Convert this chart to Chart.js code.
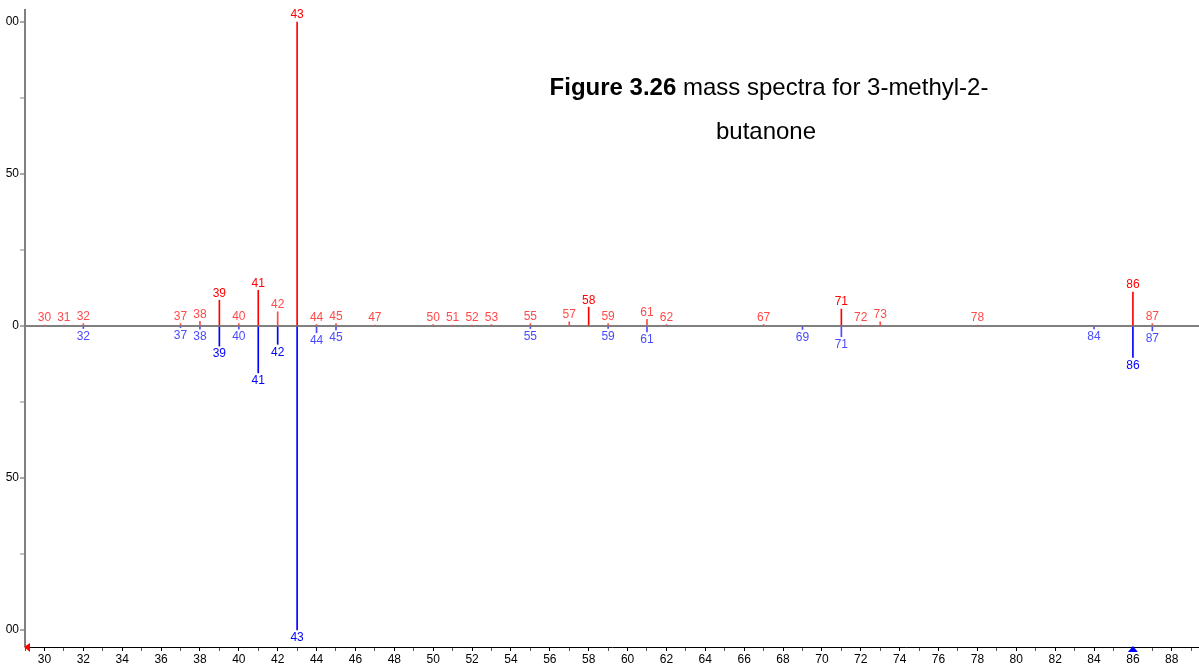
<!DOCTYPE html>
<html>
<head>
<meta charset="utf-8">
<script src="https://cdn.jsdelivr.net/npm/chart.js@4.4.1/dist/chart.umd.min.js"></script>
<style>
  html, body { margin: 0; padding: 0; background: #fff; overflow: hidden; }
  #wrap { position: relative; width: 1199px; height: 667px; }
</style>
</head>
<body>
<div id="wrap"><canvas id="spektrum" width="1199" height="667"></canvas></div>
<script>
// m/z dan intensitas relatif (atas = sampel, bawah = pustaka)
const mzSampel = [30, 31, 32, 37, 38, 39, 40, 41, 42, 43, 44, 45, 47, 50, 51, 52, 53, 55, 57, 58, 59, 61, 62, 67, 71, 72, 73, 78, 86, 87];
const intSampel = [0.3, 0.3, 0.8, 0.8, 1.6, 8.5, 0.8, 11.8, 4.7, 100, 0.5, 0.8, 0.3, 0.5, 0.3, 0.3, 0.5, 0.8, 1.4, 6.2, 0.8, 2.2, 0.5, 0.5, 5.6, 0.3, 1.4, 0.3, 11.2, 0.8];
const mzPustaka = [32, 37, 38, 39, 40, 41, 42, 43, 44, 45, 55, 59, 61, 69, 71, 84, 86, 87];
const intPustaka = [0.8, 0.5, 1.0, 6.6, 1.0, 15.4, 6.0, 100, 2.2, 1.3, 0.8, 0.8, 1.9, 1.1, 3.5, 0.9, 10.3, 1.6];
const yTicks = [-100, -75, -50, -25, 0, 25, 50, 75, 100];

const judulTebal = "Figure 3.26";
const judulBiasa = " mass spectra for 3-methyl-2-";
const judulBaris2 = "butanone";

const FONT = "'Liberation Sans', Arial, sans-serif";

const dataAtas = mzSampel.map((m, i) => ({ x: m, y: intSampel[i] }));
const dataBawah = mzPustaka.map((m, i) => ({ x: m, y: -intPustaka[i] }));

const warnaMerah = (v) => Math.abs(v) >= 5 ? "#ff0000" : "#ff4a4a";
const warnaBiru = (v) => Math.abs(v) >= 5 ? "#0000ff" : "#4a4aff";

// label m/z di ujung tiap garis + judul + penanda kursor
const labelPlugin = {
    id: "labelPuncak",
    afterDatasetsDraw(chart) {
        const ctx = chart.ctx;
        ctx.save();
        ctx.font = "12px " + FONT;
        ctx.textAlign = "center";
        chart.data.datasets.forEach((ds, di) => {
            const meta = chart.getDatasetMeta(di);
            meta.data.forEach((bar, i) => {
                const p = ds.data[i];
                if (p.y >= 0) {
                    ctx.fillStyle = warnaMerah(p.y);
                    ctx.textBaseline = "bottom";
                    ctx.fillText(String(p.x), bar.x, bar.y - 1);
                } else {
                    ctx.fillStyle = warnaBiru(p.y);
                    ctx.textBaseline = "top";
                    ctx.fillText(String(p.x), bar.x, bar.y + 2);
                }
            });
        });
        ctx.restore();
    },
    afterDraw(chart) {
        const ctx = chart.ctx;
        const area = chart.chartArea;
        ctx.save();

        // judul
        ctx.fillStyle = "#000";
        ctx.textBaseline = "alphabetic";
        ctx.textAlign = "left";
        ctx.font = "bold 24px " + FONT;
        const wB = ctx.measureText(judulTebal).width;
        ctx.font = "24px " + FONT;
        const wN = ctx.measureText(judulBiasa).width;
        let x0 = 769 - (wB + wN) / 2;
        ctx.font = "bold 24px " + FONT;
        ctx.fillText(judulTebal, x0, 95);
        ctx.font = "24px " + FONT;
        ctx.fillText(judulBiasa, x0 + wB, 95);
        ctx.textAlign = "center";
        ctx.fillText(judulBaris2, 766, 139);

        // penanda merah di kiri sumbu x
        ctx.fillStyle = "#ff0000";
        ctx.beginPath();
        ctx.moveTo(area.left - 1, area.bottom);
        ctx.lineTo(area.left + 5, area.bottom - 4);
        ctx.lineTo(area.left + 5, area.bottom + 5);
        ctx.closePath();
        ctx.fill();

        // penanda biru pada m/z 86
        const xb = chart.scales.x.getPixelForValue(86);
        ctx.fillStyle = "#0000ff";
        ctx.beginPath();
        ctx.moveTo(xb, area.bottom - 1);
        ctx.lineTo(xb - 5, area.bottom + 5);
        ctx.lineTo(xb + 5, area.bottom + 5);
        ctx.closePath();
        ctx.fill();

        ctx.restore();
    }
};

const ctx = document.getElementById("spektrum").getContext("2d");

new Chart(ctx, {
    type: "bar",
    data: {
        datasets: [
            {
                label: "Sampel",
                data: dataAtas,
                backgroundColor: (c) => warnaMerah(c.raw ? c.raw.y : 0),
                barThickness: 1,
                grouped: false,
            },
            {
                label: "Pustaka",
                data: dataBawah,
                backgroundColor: (c) => warnaBiru(c.raw ? c.raw.y : 0),
                barThickness: 1,
                grouped: false,
            },
        ],
    },
    options: {
        responsive: false,
        animation: false,
        devicePixelRatio: 1,
        layout: { padding: { top: 10, right: 0, left: 0, bottom: 0 } },
        plugins: {
            legend: { display: false },
            tooltip: { enabled: false },
        },
        scales: {
            x: {
                type: "linear",
                offset: false,
                min: 29,
                max: 89.4,
                afterBuildTicks: (s) => {
                    const t = [];
                    for (let v = 29; v <= 89; v++) t.push({ value: v });
                    s.ticks = t;
                },
                afterFit: (s) => { s.height = 20; },
                ticks: {
                    autoSkip: false,
                    maxRotation: 0,
                    padding: 1,
                    color: "#000",
                    font: { family: FONT, size: 12 },
                    callback: (v) => (v % 2 === 0 ? String(v) : ""),
                },
                grid: {
                    offset: false,
                    drawOnChartArea: false,
                    drawTicks: true,
                    tickLength: 4,
                    tickColor: (c) => (c.tick && c.tick.value % 2 === 0 ? "#000" : "#555"),
                },
                border: { color: "#000", width: 1 },
            },
            y: {
                min: -105.6,
                max: 104,
                afterBuildTicks: (s) => {
                    s.ticks = yTicks.map((v) => ({ value: v }));
                },
                afterFit: (s) => { s.width = 25; },
                ticks: {
                    autoSkip: false,
                    padding: 1,
                    color: "#000",
                    font: { family: FONT, size: 12 },
                    // label tampak terpotong seperti di gambar asli
                    callback: (v) => (v % 50 === 0 ? String(Math.abs(v)).slice(-2) : ""),
                },
                grid: {
                    drawOnChartArea: true,
                    drawTicks: true,
                    tickLength: 5,
                    color: (c) => (c.tick && c.tick.value === 0 ? "#808080" : "rgba(0,0,0,0)"),
                    lineWidth: (c) => (c.tick && c.tick.value === 0 ? 2 : 0),
                    tickColor: (c) => (c.tick && c.tick.value % 50 === 0 ? "#555" : "#888"),
                    tickWidth: 1,
                },
                border: { color: "#808080", width: 2 },
            },
        },
    },
    plugins: [labelPlugin],
});
</script>
</body>
</html>
